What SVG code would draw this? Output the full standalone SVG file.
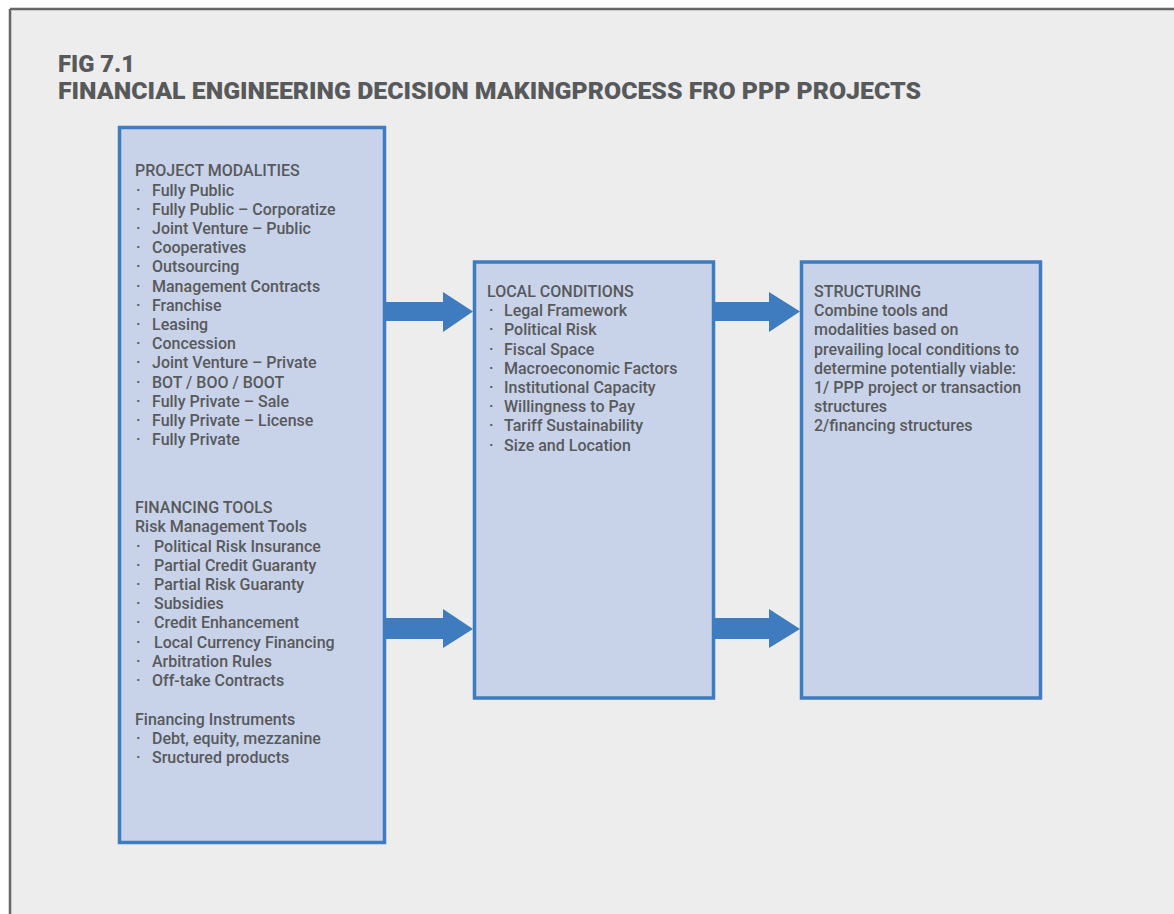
<svg xmlns="http://www.w3.org/2000/svg" width="1174" height="914" viewBox="0 0 1174 914">
<style>
.t{font-family:Roboto,"Liberation Sans",sans-serif;font-size:16px;font-weight:500;fill:#58595b}
.h{font-family:Roboto,"Liberation Sans",sans-serif;font-size:23.5px;font-weight:900;fill:#58595b}
.box{fill:#c8d3ea;stroke:#3f7bbf;stroke-width:3.5}
.arr{fill:#3f7bbf}
</style>
<rect x="0" y="0" width="1174" height="914" fill="#ffffff"/>
<rect x="10" y="9" width="1164" height="905" fill="#ededed"/>
<line x1="10" y1="9" x2="1174" y2="9" stroke="#666" stroke-width="2.5"/>
<line x1="10" y1="9" x2="10" y2="914" stroke="#666" stroke-width="2.5"/>
<g id="title">
<text class="h" x="58" y="72" textLength="77" lengthAdjust="spacingAndGlyphs">FIG 7.1</text>
<text class="h" x="58" y="99" textLength="863" lengthAdjust="spacingAndGlyphs">FINANCIAL ENGINEERING DECISION MAKINGPROCESS FRO PPP PROJECTS</text>
</g>
<g id="connectors">
<polygon class="arr" points="385,302 443,302 443,292 473,311.5 443,332 443,321 385,321"/>
<polygon class="arr" points="715,302 769,302 769,292 800,311.5 769,332 769,321 715,321"/>
<polygon class="arr" points="385,618 443,618 443,609 473,629 443,648 443,639 385,639"/>
<polygon class="arr" points="715,618 769,618 769,609 800,629 769,648 769,639 715,639"/>
</g>
<g id="node-left">
<rect class="box" x="119.5" y="127.5" width="265" height="715"/>
<text class="t" x="135" y="176">PROJECT MODALITIES</text>
<g class="t">
<text x="136" y="196">·</text><text x="152" y="196">Fully Public</text>
<text x="136" y="215">·</text><text x="152" y="215">Fully Public – Corporatize</text>
<text x="136" y="234">·</text><text x="152" y="234">Joint Venture – Public</text>
<text x="136" y="253">·</text><text x="152" y="253">Cooperatives</text>
<text x="136" y="272">·</text><text x="152" y="272">Outsourcing</text>
<text x="136" y="292">·</text><text x="152" y="292">Management Contracts</text>
<text x="136" y="311">·</text><text x="152" y="311">Franchise</text>
<text x="136" y="330">·</text><text x="152" y="330">Leasing</text>
<text x="136" y="349">·</text><text x="152" y="349">Concession</text>
<text x="136" y="368">·</text><text x="152" y="368">Joint Venture – Private</text>
<text x="136" y="388">·</text><text x="152" y="388">BOT / BOO / BOOT</text>
<text x="136" y="407">·</text><text x="152" y="407">Fully Private – Sale</text>
<text x="136" y="426">·</text><text x="152" y="426">Fully Private – License</text>
<text x="136" y="445">·</text><text x="152" y="445">Fully Private</text>
</g>
<text class="t" x="135" y="513">FINANCING TOOLS</text>
<text class="t" x="135" y="532">Risk Management Tools</text>
<g class="t">
<text x="136" y="552">·</text><text x="154" y="552">Political Risk Insurance</text>
<text x="136" y="571">·</text><text x="154" y="571">Partial Credit Guaranty</text>
<text x="136" y="590">·</text><text x="154" y="590">Partial Risk Guaranty</text>
<text x="136" y="609">·</text><text x="154" y="609">Subsidies</text>
<text x="136" y="628">·</text><text x="154" y="628">Credit Enhancement</text>
<text x="136" y="648">·</text><text x="154" y="648">Local Currency Financing</text>
<text x="136" y="667">·</text><text x="152" y="667">Arbitration Rules</text>
<text x="136" y="686">·</text><text x="152" y="686">Off-take Contracts</text>
</g>
<text class="t" x="135" y="725">Financing Instruments</text>
<g class="t">
<text x="136" y="744">·</text><text x="152" y="744">Debt, equity, mezzanine</text>
<text x="136" y="763">·</text><text x="152" y="763">Sructured products</text>
</g>
</g>
<g id="node-local">
<rect class="box" x="474.5" y="262" width="239" height="436"/>
<g class="t">
<text x="487" y="297">LOCAL CONDITIONS</text>
<text x="489" y="316">·</text><text x="504" y="316">Legal Framework</text>
<text x="489" y="335">·</text><text x="504" y="335">Political Risk</text>
<text x="489" y="355">·</text><text x="504" y="355">Fiscal Space</text>
<text x="489" y="374">·</text><text x="504" y="374">Macroeconomic Factors</text>
<text x="489" y="393">·</text><text x="504" y="393">Institutional Capacity</text>
<text x="489" y="412">·</text><text x="504" y="412">Willingness to Pay</text>
<text x="489" y="431">·</text><text x="504" y="431">Tariff Sustainability</text>
<text x="489" y="451">·</text><text x="504" y="451">Size and Location</text>
</g>
</g>
<g id="node-structuring">
<rect class="box" x="801.5" y="262" width="239" height="436"/>
<g class="t">
<text x="814" y="297">STRUCTURING</text>
<text x="814" y="316">Combine tools and</text>
<text x="814" y="335">modalities based on</text>
<text x="814" y="355">prevailing local conditions to</text>
<text x="814" y="374">determine potentially viable:</text>
<text x="814" y="393">1/ PPP project or transaction</text>
<text x="814" y="412">structures</text>
<text x="814" y="431">2/financing structures</text>
</g>
</g>
</svg>
